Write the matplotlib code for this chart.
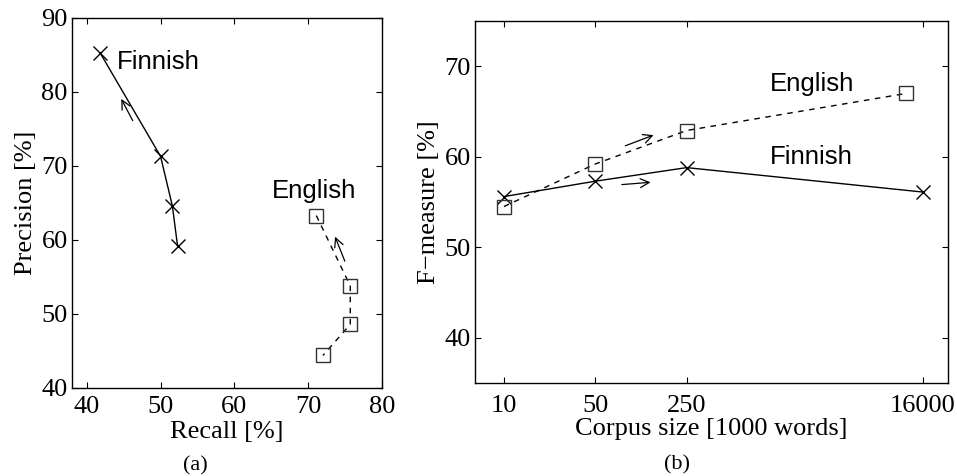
import matplotlib.pyplot as plt
from matplotlib.ticker import FixedLocator, FixedFormatter, NullLocator

# (a) precision vs recall
fin_recall = [41.8, 50.0, 51.6, 52.3]
fin_precision = [85.3, 71.3, 64.6, 59.2]
eng_recall = [71.1, 75.7, 75.7, 72.0]
eng_precision = [63.3, 53.8, 48.6, 44.4]

# (b) F-measure vs corpus size
fin_size = [10, 50, 250, 16000]
fin_f = [55.6, 57.3, 58.8, 56.1]
eng_size = [10, 50, 250, 12000]
eng_f = [54.5, 59.2, 62.9, 67.0]
size_ticks = [10, 50, 250, 16000]

serif = 'Liberation Serif'
sans = 'Liberation Sans'
arrow = dict(arrowstyle='->', color='k', lw=0.9, mutation_scale=16)

fig = plt.figure(figsize=(9.57, 4.76), dpi=100)
ax1 = fig.add_axes([72 / 957, 1 - 388 / 476, 310 / 957, 370 / 476])
ax2 = fig.add_axes([475 / 957, 1 - 383 / 476, 473 / 957, 362 / 476])

ax1.plot(fin_recall, fin_precision, 'k-', lw=1, marker='x', ms=10, mew=1)
ax1.plot(eng_recall, eng_precision, color='k', ls=(0, (4, 4)), lw=1,
         marker='s', ms=10, mfc='none', mec='#333333', mew=1)
ax1.annotate('', xy=(44.5, 79.4), xytext=(46.4, 75.8), arrowprops=arrow)
ax1.annotate('', xy=(73.5, 60.8), xytext=(75.1, 56.8), arrowprops=arrow)
ax1.text(44.1, 84.0, 'Finnish', family=sans, fontsize=18.5, va='center')
ax1.text(65.1, 66.6, 'English', family=sans, fontsize=18.5, va='center')
ax1.set_xlim(38, 80)
ax1.set_ylim(40, 90)
ax1.set_xticks([40, 50, 60, 70, 80])
ax1.set_yticks([40, 50, 60, 70, 80, 90])
ax1.set_xlabel('Recall [%]', family=serif, fontsize=19, labelpad=2)
ax1.set_ylabel('Precision [%]', family=serif, fontsize=19, labelpad=3)
fig.text(195 / 957, 1 - 466 / 476, '(a)', family=serif, fontsize=16,
         ha='center', va='center')

ax2.plot(fin_size, fin_f, 'k-', lw=1, marker='x', ms=10, mew=1)
ax2.plot(eng_size, eng_f, color='k', ls=(0, (4, 4)), lw=1,
         marker='s', ms=10, mfc='none', mec='#333333', mew=1)
ax2.annotate('', xy=(146, 62.5), xytext=(81, 61.1), arrowprops=arrow)
ax2.annotate('', xy=(139, 57.2), xytext=(76, 56.9), arrowprops=arrow)
ax2.text(1090, 68.0, 'English', family=sans, fontsize=18.5, va='center')
ax2.text(1090, 60.0, 'Finnish', family=sans, fontsize=18.5, va='center')
ax2.set_xscale('log')
ax2.set_xlim(6, 25000)
ax2.set_ylim(35, 75)
ax2.xaxis.set_major_locator(FixedLocator(size_ticks))
ax2.xaxis.set_major_formatter(FixedFormatter([str(s) for s in size_ticks]))
ax2.xaxis.set_minor_locator(NullLocator())
ax2.set_yticks([40, 50, 60, 70])
ax2.set_xlabel('Corpus size [1000 words]', family=serif, fontsize=19, labelpad=0)
ax2.set_ylabel('F\u2212measure [%]', family=serif, fontsize=19, labelpad=3)
fig.text(677 / 957, 1 - 465 / 476, '(b)', family=serif, fontsize=16,
         ha='center', va='center')

for ax in (ax1, ax2):
    ax.tick_params(direction='in', top=True, right=True, length=4,
                   width=0.8, labelsize=19)
    ax.tick_params(axis='y', pad=3)
    for lab in ax.get_xticklabels() + ax.get_yticklabels():
        lab.set_family(serif)
    for sp in ax.spines.values():
        sp.set_linewidth(1)
ax1.tick_params(axis='x', pad=6)
ax2.tick_params(axis='x', pad=9)

fig.savefig('out.png', dpi=100)
